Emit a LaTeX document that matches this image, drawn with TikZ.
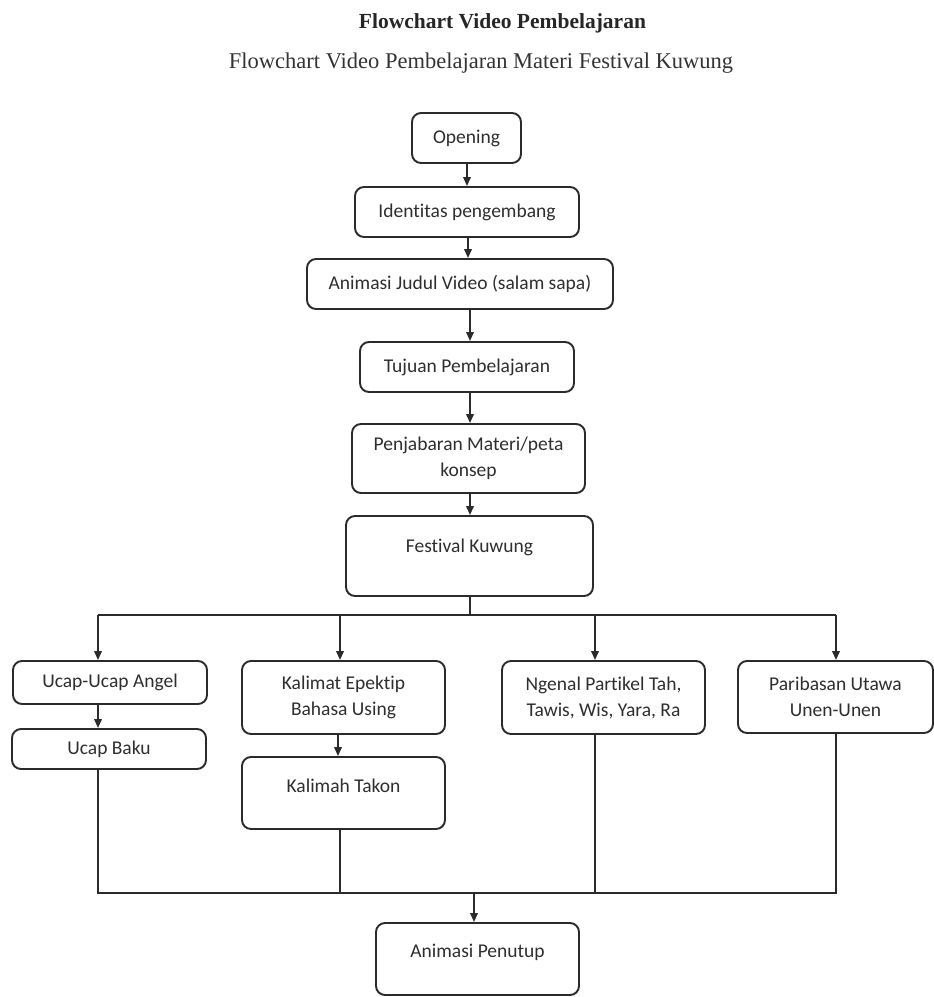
\documentclass[tikz,border=0pt]{standalone}
\usepackage{fontspec}
\setmainfont{Carlito}[RawFeature={-liga}]
\newfontfamily\titlefont{Liberation Serif}
\usepackage{tikz}
\usetikzlibrary{arrows.meta, calc, positioning}
\definecolor{flowLine}{HTML}{2B2B2B}
\definecolor{flowText}{HTML}{2E2E2E}

\begin{document}
\begin{tikzpicture}[x=1pt, y=-1pt, line width=1.9pt,
	box/.style={draw=flowLine, rounded corners=9pt, inner sep=0pt, align=center, text=flowText, font=\fontsize{19.5}{26}\selectfont},
	arr/.style={draw=flowLine, -{Triangle[length=9pt, width=7.5pt]}},
	link/.style={draw=flowLine}]

	\useasboundingbox (0,0) rectangle (934,997);

	% headings
	\node[anchor=base west, inner sep=0pt, font=\titlefont\bfseries\fontsize{21.5}{26}\selectfont, text=black!85] (title) at (358,28) {Flowchart Video Pembelajaran};
	\node[anchor=base west, inner sep=0pt, font=\titlefont\fontsize{22.5}{27}\selectfont, text=black!80] (subtitle) at (228,68) {Flowchart Video Pembelajaran Materi Festival Kuwung};

	% main column
	\node[box, minimum width=109pt, minimum height=50pt] (open) at (466.5,138) {Opening};
	\node[box, minimum width=224pt, minimum height=50pt] (ident) at (467,212) {Identitas pengembang};
	\node[box, minimum width=306pt, minimum height=50pt] (judul) at (460,284) {Animasi Judul Video (salam sapa)};
	\node[box, minimum width=214pt, minimum height=50pt] (tujuan) at (467,367) {Tujuan Pembelajaran};
	\node[box, minimum width=233pt, minimum height=69pt] (peta) at (468.5,458.5) {Penjabaran Materi/peta\\konsep};
	\node[box, minimum width=247pt, minimum height=80pt, text depth=20pt] (fest) at (469.5,556) {Festival Kuwung};

	% branches
	\node[box, minimum width=194pt, minimum height=43pt] (angel) at (110,682.5) {Ucap-Ucap Angel};
	\node[box, minimum width=194pt, minimum height=40pt] (baku) at (109,749) {Ucap Baku};
	\node[box, minimum width=203pt, minimum height=73pt] (epektip) at (343.5,697.5) {Kalimat Epektip\\Bahasa Using};
	\node[box, minimum width=203pt, minimum height=72pt, text depth=14pt] (takon) at (343.5,793) {Kalimah Takon};
	\node[box, minimum width=203pt, minimum height=73pt] (partikel) at (603.5,697.5) {Ngenal Partikel Tah,\\Tawis, Wis, Yara, Ra};
	\node[box, minimum width=195pt, minimum height=72pt] (unen) at (835.5,697) {Paribasan Utawa\\Unen-Unen};
	\node[box, minimum width=203pt, minimum height=72pt, text depth=16pt] (tutup) at (477.5,959) {Animasi Penutup};

	\coordinate (split) at (470,615);
	\coordinate (s1) at (98,615);
	\coordinate (s2) at (340,615);
	\coordinate (s3) at (595,615);
	\coordinate (s4) at (836,615);
	\coordinate (join) at (474,893);
	\coordinate (j1) at (98,893);
	\coordinate (j2) at (340,893);
	\coordinate (j3) at (595,893);
	\coordinate (j4) at (836,893);

	\draw[arr] (open.south -| ident.north) -- (ident.north);
	\draw[arr] ($(ident.south)+(1,0)$) -- ($(judul.north -| ident.north)+(1,0)$);
	\draw[arr] (judul.south -| split) -- (tujuan.north -| split);
	\draw[arr] (tujuan.south -| split) -- (peta.north -| split);
	\draw[arr] (peta.south -| split) -- (fest.north -| split);

	\draw[link] (fest.south -| split) -- (split);
	\draw[link] (s1) -- (s4);
	\foreach \s/\n in {s1/angel, s2/epektip, s3/partikel, s4/unen}
		\draw[arr] (\s) -- (\n.north -| \s);

	\draw[arr] (angel.south -| s1) -- (baku.north -| s1);
	\draw[arr] ($(epektip.south -| s2)+(-2,0)$) -- ($(takon.north -| s2)+(-2,0)$);

	\draw[link] (baku.south -| j1) -- (j1) -- (j4) -- (unen.south -| j4);
	\draw[link] (takon.south -| j2) -- (j2);
	\draw[link] (partikel.south -| j3) -- (j3);
	\draw[arr] (join) -- (tutup.north -| join);

\end{tikzpicture}
\end{document}
